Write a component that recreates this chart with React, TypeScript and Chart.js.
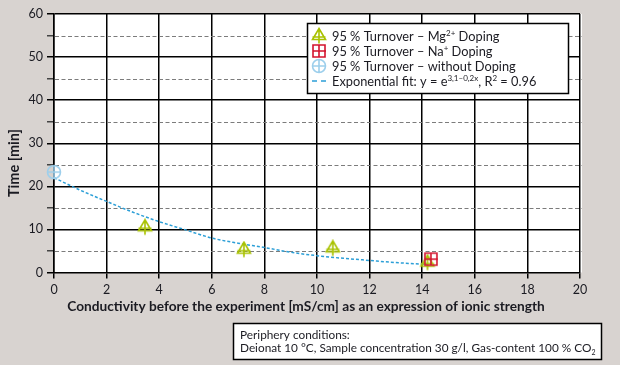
import React, { useEffect, useRef } from 'react';
import { Chart, registerables } from 'chart.js';

Chart.register(...registerables);

const FONT = 'Lato, "Open Sans", sans-serif';

// Exponential fit curve
const fitX = [0, 1, 2, 3, 4, 5, 6, 7, 8, 9, 10, 11, 12, 13, 14, 14.2];
const fitY = [22.0, 19.1, 16.5, 14.0, 11.8, 9.9, 8.0, 6.8, 5.8, 4.7, 3.9, 3.3, 2.8, 2.3, 1.95, 1.9];

// 95 % Turnover – Mg2+ Doping
const mgX = [3.46, 7.22, 10.6, 14.2];
const mgY = [10.5, 5.3, 5.6, 2.3];

// 95 % Turnover – Na+ Doping
const naX = [14.33];
const naY = [3.1];

// 95 % Turnover – without Doping
const noDopX = [0];
const noDopY = [23.3];

const X_MIN = 0, X_MAX = 20, X_STEP = 2;
const Y_MIN = 0, Y_MAX = 60, Y_STEP = 5, Y_LABEL_STEP = 10;

const X_TITLE = 'Conductivity before the experiment [mS/cm] as an expression of ionic strength';
const Y_TITLE = 'Time [min]';

const MG_COLOR = '#a9c200';
const NA_COLOR = '#d3132e';
const NO_COLOR = '#9dcfec';
const FIT_COLOR = '#2c9fd7';
const BG = '#d8d3d0';
const TEXT = '#1b1b22';

type Part = { t: string; s?: 'sup' | 'sub' };

const legendRows: Part[][] = [
  [{ t: '95 % Turnover – Mg' }, { t: '2+', s: 'sup' }, { t: ' Doping' }],
  [{ t: '95 % Turnover – Na' }, { t: '+', s: 'sup' }, { t: ' Doping' }],
  [{ t: '95 % Turnover – without Doping' }],
  [{ t: 'Exponential fit: y = e' }, { t: '3,1–0,2x', s: 'sup' }, { t: ', R' }, { t: '2', s: 'sup' }, { t: ' = 0.96' }],
];

const noteLines: Part[][] = [
  [{ t: 'Periphery conditions:' }],
  [{ t: 'Deionat 10 °C, Sample concentration 30 g/l, Gas-content 100 % CO' }, { t: '2', s: 'sub' }],
];

function makeMarker(kind: 'tri' | 'sq' | 'circ', color: string): HTMLCanvasElement {
  const c = document.createElement('canvas');
  c.width = 18;
  c.height = 18;
  const g = c.getContext('2d')!;
  g.strokeStyle = color;
  g.lineWidth = 1.6;
  g.beginPath();
  if (kind === 'tri') {
    g.moveTo(9, 1.5);
    g.lineTo(15.5, 12.5);
    g.lineTo(2.5, 12.5);
    g.closePath();
    g.moveTo(2.5, 10);
    g.lineTo(15.5, 10);
    g.moveTo(9, 1.5);
    g.lineTo(9, 16.5);
  } else if (kind === 'sq') {
    g.rect(3, 3, 12, 12);
    g.moveTo(3, 9);
    g.lineTo(16, 9);
    g.moveTo(9, 3);
    g.lineTo(9, 15);
  } else {
    g.arc(9, 9, 6.5, 0, Math.PI * 2);
    g.moveTo(2.5, 9);
    g.lineTo(15.5, 9);
    g.moveTo(9, 2.5);
    g.lineTo(9, 15.5);
  }
  g.stroke();
  return c;
}

function drawParts(ctx: CanvasRenderingContext2D, parts: Part[], x: number, y: number, size: number, weight = '') {
  let cx = x;
  for (const p of parts) {
    if (p.s) {
      ctx.font = `${weight} ${Math.round(size * 0.62)}px ${FONT}`;
      const dy = p.s === 'sup' ? -size * 0.38 : size * 0.22;
      ctx.fillText(p.t, cx, y + dy);
    } else {
      ctx.font = `${weight} ${size}px ${FONT}`;
      ctx.fillText(p.t, cx, y);
    }
    cx += ctx.measureText(p.t).width;
  }
}

export default function App() {
  const ref = useRef<HTMLCanvasElement | null>(null);

  useEffect(() => {
    const canvas = ref.current;
    if (!canvas) return;
    const mgM = makeMarker('tri', MG_COLOR);
    const naM = makeMarker('sq', NA_COLOR);
    const noM = makeMarker('circ', NO_COLOR);

    const decor = {
      id: 'decor',
      beforeDraw(chart: any) {
        const { ctx, chartArea: a } = chart;
        ctx.save();
        ctx.fillStyle = BG;
        ctx.fillRect(0, 0, chart.width, chart.height);
        ctx.fillStyle = '#ffffff';
        ctx.fillRect(a.left, a.top, a.right - a.left + 2, a.bottom - a.top);
        ctx.restore();
      },
      beforeDatasetsDraw(chart: any) {
        const { ctx, chartArea: a, scales } = chart;
        const y = scales.y;
        ctx.save();
        ctx.strokeStyle = '#7c7c7c';
        ctx.lineWidth = 1;
        ctx.setLineDash([4, 2.5]);
        for (let v = Y_MIN + Y_STEP; v < Y_MAX; v += Y_LABEL_STEP) {
          const py = Math.round(y.getPixelForValue(v)) + 0.5;
          ctx.beginPath();
          ctx.moveTo(a.left + 1, py);
          ctx.lineTo(a.right + 2, py);
          ctx.stroke();
        }
        ctx.restore();
      },
      afterDraw(chart: any) {
        const { ctx } = chart;
        ctx.save();
        ctx.fillStyle = TEXT;
        ctx.textBaseline = 'alphabetic';
        // axis titles
        ctx.font = `bold 13.7px ${FONT}`;
        ctx.textAlign = 'center';
        ctx.fillText(X_TITLE, 306, 311);
        ctx.save();
        ctx.translate(19, 163);
        ctx.rotate(-Math.PI / 2);
        ctx.font = `bold 14.5px ${FONT}`;
        ctx.fillText(Y_TITLE, 0, 0);
        ctx.restore();
        ctx.textAlign = 'left';

        // legend box
        ctx.fillStyle = '#ffffff';
        ctx.fillRect(307, 23, 261, 70);
        ctx.strokeStyle = '#000';
        ctx.lineWidth = 1.5;
        ctx.strokeRect(307.5, 23.5, 261, 70);
        const rowsY = [36, 51, 66, 81];
        const markers = [mgM, naM, noM];
        markers.forEach((m, i) => ctx.drawImage(m, 319 - 9, rowsY[i] - 9));
        ctx.strokeStyle = FIT_COLOR;
        ctx.lineWidth = 1.5;
        ctx.beginPath();
        ctx.moveTo(312, rowsY[3]);
        ctx.lineTo(317, rowsY[3]);
        ctx.moveTo(321, rowsY[3]);
        ctx.lineTo(326, rowsY[3]);
        ctx.stroke();
        ctx.fillStyle = TEXT;
        legendRows.forEach((r, i) => drawParts(ctx, r, 332, rowsY[i] + 4.5, 12.8));

        // periphery box
        ctx.fillStyle = '#ffffff';
        ctx.fillRect(233, 323, 368, 36);
        ctx.strokeStyle = '#000';
        ctx.lineWidth = 1.5;
        ctx.strokeRect(233.5, 323.5, 368, 36);
        ctx.fillStyle = TEXT;
        drawParts(ctx, noteLines[0], 240, 339, 11.8);
        drawParts(ctx, noteLines[1], 240, 352, 11.8);
        ctx.restore();
      },
    };

    const pts = (xs: number[], ys: number[]) => xs.map((x, i) => ({ x, y: ys[i] }));

    const chart = new Chart(canvas, {
      type: 'scatter',
      data: {
        datasets: [
          {
            label: 'Exponential fit',
            data: pts(fitX, fitY),
            showLine: true,
            borderColor: FIT_COLOR,
            borderWidth: 1.5,
            borderDash: [3, 2],
            pointRadius: 0,
            cubicInterpolationMode: 'monotone',
            order: 4,
          } as any,
          {
            label: 'Mg',
            data: pts(mgX, mgY),
            pointStyle: mgM,
            pointRadius: 9,
            order: 3,
          },
          {
            label: 'Na',
            data: pts(naX, naY),
            pointStyle: naM,
            pointRadius: 9,
            order: 2,
          },
          {
            label: 'without',
            data: pts(noDopX, noDopY),
            pointStyle: noM,
            pointRadius: 9,
            order: 1,
            clip: false,
          } as any,
        ],
      },
      options: {
        responsive: false,
        animation: false,
        events: [],
        layout: { padding: { top: 14, right: 40, left: 0, bottom: 0 } },
        plugins: { legend: { display: false }, tooltip: { enabled: false } },
        scales: {
          x: {
            type: 'linear',
            min: X_MIN,
            max: X_MAX,
            afterFit: (s: any) => { s.height = 92.5; },
            ticks: {
              stepSize: X_STEP,
              color: TEXT,
              font: { family: FONT, size: 12.5 },
              padding: 4,
              maxRotation: 0,
            },
            grid: {
              color: '#000',
              lineWidth: 1.5,
              tickLength: 6,
              tickColor: '#000',
              tickWidth: 1.5,
            },
            border: { color: '#000', width: 1.5 },
          },
          y: {
            type: 'linear',
            min: Y_MIN,
            max: Y_MAX,
            afterFit: (s: any) => { s.width = 54; },
            ticks: {
              stepSize: Y_STEP,
              color: TEXT,
              font: { family: FONT, size: 12.5 },
              padding: 4,
              callback: (v: any) => (Number(v) % Y_LABEL_STEP === 0 ? String(v) : ''),
            },
            grid: {
              color: (c: any) => (c.tick && c.tick.value % Y_LABEL_STEP === 0 && c.tick.value !== 0 ? '#000' : 'rgba(0,0,0,0)'),
              lineWidth: 1.5,
              tickLength: 7,
              tickColor: (c: any) => (c.tick && c.tick.value % Y_LABEL_STEP === 0 ? '#000' : '#444'),
              tickWidth: 1.5,
            },
            border: { color: '#000', width: 1.5 },
          },
        },
      },
      plugins: [decor],
    });
    return () => chart.destroy();
  }, []);

  return (
    <div style={{ position: 'absolute', left: 0, top: 0, width: 620, height: 365 }}>
      <canvas ref={ref} width={620} height={365} style={{ display: 'block' }} />
    </div>
  );
}
